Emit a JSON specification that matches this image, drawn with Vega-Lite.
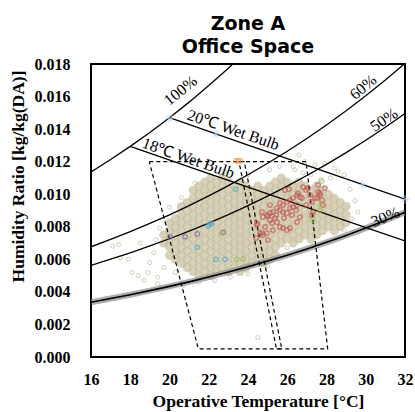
{
"$schema": "https://vega.github.io/schema/vega-lite/v6.json",
"width": 314, "height": 293,
"autosize": {"type": "none"},
"padding": {"left": 91, "top": 64, "right": 10, "bottom": 55},
"background": "white",
"title": {"text": ["Zone A", "Office Space"], "font": "DejaVu Sans", "fontSize": 19, "fontWeight": "bold", "color": "black", "anchor": "middle", "frame": "group", "offset": -1, "lineHeight": 23},
"config": {
 "view": {"stroke": "black", "strokeWidth": 2},
 "axis": {"domain": false, "grid": false, "ticks": false, "tickSize": 0, "labelFont": "Liberation Serif", "labelFontWeight": "bold", "labelFontSize": 16, "labelColor": "black", "labelFlush": false, "labelOverlap": false, "titleFont": "Liberation Serif", "titleFontWeight": "bold", "titleFontSize": 17.5, "titleColor": "black"}
},
"datasets": {
 "cloud": [
  {"t":19.7,"w":0.007},{"t":19.7,"w":0.0075},
  {"t":20.0,"w":0.00625},{"t":20.0,"w":0.00675},{"t":20.0,"w":0.00725},{"t":20.0,"w":0.00775},{"t":20.0,"w":0.00825},
  {"t":20.3,"w":0.006},{"t":20.3,"w":0.0065},{"t":20.3,"w":0.007},{"t":20.3,"w":0.0075},{"t":20.3,"w":0.008},{"t":20.3,"w":0.0085},
  {"t":20.6,"w":0.00575},{"t":20.6,"w":0.00625},{"t":20.6,"w":0.00675},{"t":20.6,"w":0.00725},{"t":20.6,"w":0.00775},{"t":20.6,"w":0.00825},{"t":20.6,"w":0.00875},{"t":20.6,"w":0.00925},
  {"t":20.9,"w":0.0055},{"t":20.9,"w":0.006},{"t":20.9,"w":0.0065},{"t":20.9,"w":0.007},{"t":20.9,"w":0.0075},{"t":20.9,"w":0.008},{"t":20.9,"w":0.0085},{"t":20.9,"w":0.009},{"t":20.9,"w":0.0095},
  {"t":21.2,"w":0.00525},{"t":21.2,"w":0.00575},{"t":21.2,"w":0.00625},{"t":21.2,"w":0.00675},{"t":21.2,"w":0.00725},{"t":21.2,"w":0.00775},{"t":21.2,"w":0.00825},{"t":21.2,"w":0.00875},{"t":21.2,"w":0.00925},{"t":21.2,"w":0.00975},{"t":21.2,"w":0.01025},
  {"t":21.5,"w":0.005},{"t":21.5,"w":0.0055},{"t":21.5,"w":0.006},{"t":21.5,"w":0.0065},{"t":21.5,"w":0.007},{"t":21.5,"w":0.0075},{"t":21.5,"w":0.008},{"t":21.5,"w":0.0085},{"t":21.5,"w":0.009},{"t":21.5,"w":0.0095},{"t":21.5,"w":0.01},{"t":21.5,"w":0.0105},
  {"t":21.8,"w":0.00525},{"t":21.8,"w":0.00575},{"t":21.8,"w":0.00625},{"t":21.8,"w":0.00675},{"t":21.8,"w":0.00725},{"t":21.8,"w":0.00775},{"t":21.8,"w":0.00825},{"t":21.8,"w":0.00875},{"t":21.8,"w":0.00925},{"t":21.8,"w":0.00975},{"t":21.8,"w":0.01025},{"t":21.8,"w":0.01075},
  {"t":22.1,"w":0.005},{"t":22.1,"w":0.0055},{"t":22.1,"w":0.006},{"t":22.1,"w":0.0065},{"t":22.1,"w":0.007},{"t":22.1,"w":0.0075},{"t":22.1,"w":0.008},{"t":22.1,"w":0.0085},{"t":22.1,"w":0.009},{"t":22.1,"w":0.0095},{"t":22.1,"w":0.01},{"t":22.1,"w":0.0105},{"t":22.1,"w":0.011},
  {"t":22.4,"w":0.00525},{"t":22.4,"w":0.00575},{"t":22.4,"w":0.00625},{"t":22.4,"w":0.00675},{"t":22.4,"w":0.00725},{"t":22.4,"w":0.00775},{"t":22.4,"w":0.00825},{"t":22.4,"w":0.00875},{"t":22.4,"w":0.00925},{"t":22.4,"w":0.00975},{"t":22.4,"w":0.01025},{"t":22.4,"w":0.01075},
  {"t":22.7,"w":0.0055},{"t":22.7,"w":0.006},{"t":22.7,"w":0.0065},{"t":22.7,"w":0.007},{"t":22.7,"w":0.0075},{"t":22.7,"w":0.008},{"t":22.7,"w":0.0085},{"t":22.7,"w":0.009},{"t":22.7,"w":0.0095},{"t":22.7,"w":0.01},{"t":22.7,"w":0.0105},{"t":22.7,"w":0.011},
  {"t":23.0,"w":0.00525},{"t":23.0,"w":0.00575},{"t":23.0,"w":0.00625},{"t":23.0,"w":0.00675},{"t":23.0,"w":0.00725},{"t":23.0,"w":0.00775},{"t":23.0,"w":0.00825},{"t":23.0,"w":0.00875},{"t":23.0,"w":0.00925},{"t":23.0,"w":0.00975},{"t":23.0,"w":0.01025},{"t":23.0,"w":0.01075},
  {"t":23.3,"w":0.0055},{"t":23.3,"w":0.006},{"t":23.3,"w":0.0065},{"t":23.3,"w":0.007},{"t":23.3,"w":0.0075},{"t":23.3,"w":0.008},{"t":23.3,"w":0.0085},{"t":23.3,"w":0.009},{"t":23.3,"w":0.0095},{"t":23.3,"w":0.01},{"t":23.3,"w":0.0105},
  {"t":23.6,"w":0.00525},{"t":23.6,"w":0.00575},{"t":23.6,"w":0.00625},{"t":23.6,"w":0.00675},{"t":23.6,"w":0.00725},{"t":23.6,"w":0.00775},{"t":23.6,"w":0.00825},{"t":23.6,"w":0.00875},{"t":23.6,"w":0.00925},{"t":23.6,"w":0.00975},{"t":23.6,"w":0.01025},{"t":23.6,"w":0.01075},
  {"t":23.9,"w":0.0055},{"t":23.9,"w":0.006},{"t":23.9,"w":0.0065},{"t":23.9,"w":0.007},{"t":23.9,"w":0.0075},{"t":23.9,"w":0.008},{"t":23.9,"w":0.0085},{"t":23.9,"w":0.009},{"t":23.9,"w":0.0095},{"t":23.9,"w":0.01},{"t":23.9,"w":0.0105},
  {"t":24.2,"w":0.00575},{"t":24.2,"w":0.00625},{"t":24.2,"w":0.00675},{"t":24.2,"w":0.00725},{"t":24.2,"w":0.00775},{"t":24.2,"w":0.00825},{"t":24.2,"w":0.00875},{"t":24.2,"w":0.00925},{"t":24.2,"w":0.00975},{"t":24.2,"w":0.01025},
  {"t":24.5,"w":0.006},{"t":24.5,"w":0.0065},{"t":24.5,"w":0.007},{"t":24.5,"w":0.0075},{"t":24.5,"w":0.008},{"t":24.5,"w":0.0085},{"t":24.5,"w":0.009},{"t":24.5,"w":0.0095},{"t":24.5,"w":0.01},{"t":24.5,"w":0.0105},
  {"t":24.8,"w":0.00575},{"t":24.8,"w":0.00625},{"t":24.8,"w":0.00675},{"t":24.8,"w":0.00725},{"t":24.8,"w":0.00775},{"t":24.8,"w":0.00825},{"t":24.8,"w":0.00875},{"t":24.8,"w":0.00925},{"t":24.8,"w":0.00975},{"t":24.8,"w":0.01025},
  {"t":25.1,"w":0.006},{"t":25.1,"w":0.0065},{"t":25.1,"w":0.007},{"t":25.1,"w":0.0075},{"t":25.1,"w":0.008},{"t":25.1,"w":0.0085},{"t":25.1,"w":0.009},{"t":25.1,"w":0.0095},{"t":25.1,"w":0.01},{"t":25.1,"w":0.0105},
  {"t":25.4,"w":0.00625},{"t":25.4,"w":0.00675},{"t":25.4,"w":0.00725},{"t":25.4,"w":0.00775},{"t":25.4,"w":0.00825},{"t":25.4,"w":0.00875},{"t":25.4,"w":0.00925},{"t":25.4,"w":0.00975},{"t":25.4,"w":0.01025},{"t":25.4,"w":0.01075},
  {"t":25.7,"w":0.007},{"t":25.7,"w":0.0075},{"t":25.7,"w":0.008},{"t":25.7,"w":0.0085},{"t":25.7,"w":0.009},{"t":25.7,"w":0.0095},{"t":25.7,"w":0.01},{"t":25.7,"w":0.0105},{"t":25.7,"w":0.011},
  {"t":26.0,"w":0.00725},{"t":26.0,"w":0.00775},{"t":26.0,"w":0.00825},{"t":26.0,"w":0.00875},{"t":26.0,"w":0.00925},{"t":26.0,"w":0.00975},{"t":26.0,"w":0.01025},{"t":26.0,"w":0.01075},
  {"t":26.3,"w":0.007},{"t":26.3,"w":0.0075},{"t":26.3,"w":0.008},{"t":26.3,"w":0.0085},{"t":26.3,"w":0.009},{"t":26.3,"w":0.0095},{"t":26.3,"w":0.01},{"t":26.3,"w":0.0105},
  {"t":26.6,"w":0.00725},{"t":26.6,"w":0.00775},{"t":26.6,"w":0.00825},{"t":26.6,"w":0.00875},{"t":26.6,"w":0.00925},{"t":26.6,"w":0.00975},{"t":26.6,"w":0.01025},{"t":26.6,"w":0.01075},
  {"t":26.9,"w":0.0075},{"t":26.9,"w":0.008},{"t":26.9,"w":0.0085},{"t":26.9,"w":0.009},{"t":26.9,"w":0.0095},{"t":26.9,"w":0.01},{"t":26.9,"w":0.0105},
  {"t":27.2,"w":0.00725},{"t":27.2,"w":0.00775},{"t":27.2,"w":0.00825},{"t":27.2,"w":0.00875},{"t":27.2,"w":0.00925},{"t":27.2,"w":0.00975},{"t":27.2,"w":0.01025},
  {"t":27.5,"w":0.0075},{"t":27.5,"w":0.008},{"t":27.5,"w":0.0085},{"t":27.5,"w":0.009},{"t":27.5,"w":0.0095},{"t":27.5,"w":0.01},{"t":27.5,"w":0.0105},
  {"t":27.8,"w":0.00775},{"t":27.8,"w":0.00825},{"t":27.8,"w":0.00875},{"t":27.8,"w":0.00925},{"t":27.8,"w":0.00975},{"t":27.8,"w":0.01025},
  {"t":28.1,"w":0.008},{"t":28.1,"w":0.0085},{"t":28.1,"w":0.009},{"t":28.1,"w":0.0095},{"t":28.1,"w":0.01},
  {"t":28.4,"w":0.00775},{"t":28.4,"w":0.00825},{"t":28.4,"w":0.00875},{"t":28.4,"w":0.00925},{"t":28.4,"w":0.00975},
  {"t":28.7,"w":0.008},{"t":28.7,"w":0.0085},{"t":28.7,"w":0.009},{"t":28.7,"w":0.0095},
  {"t":29.0,"w":0.00825},{"t":29.0,"w":0.00875},{"t":29.0,"w":0.00925}
 ],
 "sparse": [
  {"t":17.1,"w":0.0068},{"t":17.4,"w":0.0069},{"t":17.5,"w":0.0061},{"t":18.1,"w":0.0052},{"t":18.4,"w":0.005},{"t":18.9,"w":0.0052},{"t":19.4,"w":0.0049},{"t":19.4,"w":0.0045},{"t":20.7,"w":0.0044},{"t":18.5,"w":0.007},{"t":19.2,"w":0.0064},{"t":19.0,"w":0.0058},{"t":19.5,"w":0.0079},{"t":20.0,"w":0.0092},{"t":19.3,"w":0.0072},{"t":20.3,"w":0.0052},{"t":21.5,"w":0.0046},{"t":22.3,"w":0.0047},{"t":23.1,"w":0.0049},{"t":24.0,"w":0.0051},{"t":24.5,"w":0.0012},{"t":26.9,"w":0.012},{"t":27.4,"w":0.0118},{"t":27.9,"w":0.0119},{"t":28.4,"w":0.0116},{"t":28.9,"w":0.0112},{"t":28.2,"w":0.011},{"t":27.2,"w":0.0112},{"t":26.4,"w":0.0115},{"t":25.6,"w":0.0117},{"t":25.1,"w":0.0115},{"t":29.2,"w":0.0103},{"t":29.45,"w":0.0096},{"t":29.6,"w":0.0089},{"t":26.6,"w":0.0124},{"t":26.3,"w":0.0117},{"t":29.3,"w":0.0085},{"t":28.9,"w":0.0078},{"t":26.0,"w":0.0067},{"t":25.0,"w":0.0056},{"t":24.0,"w":0.0112},{"t":22.8,"w":0.0114},{"t":21.3,"w":0.0107},{"t":20.6,"w":0.0098},{"t":17.9,"w":0.006},{"t":18.7,"w":0.0047},{"t":19.7,"w":0.0055},{"t":28.6,"w":0.0114},{"t":27.7,"w":0.0109},{"t":26.8,"w":0.0113}
 ],
 "curves": [
  {"t":16,"w":0.011367,"c":"rh100"},{"t":17,"w":0.012129,"c":"rh100"},{"t":18,"w":0.012938,"c":"rh100"},{"t":19,"w":0.013796,"c":"rh100"},{"t":20,"w":0.014699,"c":"rh100"},{"t":21,"w":0.015658,"c":"rh100"},{"t":22,"w":0.016673,"c":"rh100"},{"t":23,"w":0.017744,"c":"rh100"},{"t":23.225,"w":0.018,"c":"rh100"},
  {"t":16,"w":0.006771,"c":"rh60"},{"t":17,"w":0.007221,"c":"rh60"},{"t":18,"w":0.007699,"c":"rh60"},{"t":19,"w":0.008205,"c":"rh60"},{"t":20,"w":0.008737,"c":"rh60"},{"t":21,"w":0.009301,"c":"rh60"},{"t":22,"w":0.009898,"c":"rh60"},{"t":23,"w":0.010526,"c":"rh60"},{"t":24,"w":0.011193,"c":"rh60"},{"t":25,"w":0.011899,"c":"rh60"},{"t":26,"w":0.012642,"c":"rh60"},{"t":27,"w":0.013426,"c":"rh60"},{"t":28,"w":0.014253,"c":"rh60"},{"t":29,"w":0.015125,"c":"rh60"},{"t":30,"w":0.016045,"c":"rh60"},{"t":31,"w":0.017015,"c":"rh60"},{"t":32,"w":0.018037,"c":"rh60"},
  {"t":16,"w":0.005632,"c":"rh50"},{"t":17,"w":0.006006,"c":"rh50"},{"t":18,"w":0.006403,"c":"rh50"},{"t":19,"w":0.006823,"c":"rh50"},{"t":20,"w":0.007264,"c":"rh50"},{"t":21,"w":0.007732,"c":"rh50"},{"t":22,"w":0.008226,"c":"rh50"},{"t":23,"w":0.008747,"c":"rh50"},{"t":24,"w":0.0093,"c":"rh50"},{"t":25,"w":0.009884,"c":"rh50"},{"t":26,"w":0.010499,"c":"rh50"},{"t":27,"w":0.011148,"c":"rh50"},{"t":28,"w":0.011832,"c":"rh50"},{"t":29,"w":0.012553,"c":"rh50"},{"t":30,"w":0.013314,"c":"rh50"},{"t":31,"w":0.014115,"c":"rh50"},{"t":32,"w":0.014959,"c":"rh50"},
  {"t":18,"w":0.012938,"c":"wb18"},{"t":21,"w":0.011684,"c":"wb18"},{"t":25,"w":0.010021,"c":"wb18"},{"t":28,"w":0.008781,"c":"wb18"},{"t":32,"w":0.007135,"c":"wb18"},
  {"t":20,"w":0.014699,"c":"wb20"},{"t":24,"w":0.01302,"c":"wb20"},{"t":28,"w":0.011352,"c":"wb20"},{"t":32,"w":0.009693,"c":"wb20"}
 ],
 "rh30": [
  {"t":16,"w":0.003367},{"t":17,"w":0.00359},{"t":18,"w":0.003826},{"t":19,"w":0.004076},{"t":20,"w":0.004338},{"t":21,"w":0.004616},{"t":22,"w":0.00491},{"t":23,"w":0.005219},{"t":24,"w":0.005547},{"t":25,"w":0.005893},{"t":26,"w":0.006257},{"t":27,"w":0.006641},{"t":28,"w":0.007046},{"t":29,"w":0.007471},{"t":30,"w":0.00792},{"t":31,"w":0.008393},{"t":32,"w":0.00889}
 ],
 "zones": [
  {"t":18.97,"w":0.012,"z":"winter","o":1},{"t":23.81,"w":0.012,"z":"winter","o":2},{"t":25.72,"w":0.0005,"z":"winter","o":3},{"t":21.47,"w":0.0005,"z":"winter","o":4},{"t":18.97,"w":0.012,"z":"winter","o":5},
  {"t":23.54,"w":0.012,"z":"summer","o":1},{"t":26.96,"w":0.012,"z":"summer","o":2},{"t":28.06,"w":0.0005,"z":"summer","o":3},{"t":25.45,"w":0.0005,"z":"summer","o":4},{"t":23.54,"w":0.012,"z":"summer","o":5}
 ],
 "pts": [
  {"t":26.09,"w":0.01032,"g":"red"},{"t":26.8,"w":0.01044,"g":"red"},{"t":26.55,"w":0.01007,"g":"red"},{"t":26.65,"w":0.00983,"g":"red"},{"t":26.5,"w":0.00995,"g":"red"},{"t":26.75,"w":0.00977,"g":"red"},{"t":27.06,"w":0.01038,"g":"red"},{"t":27.57,"w":0.01014,"g":"red"},{"t":27.67,"w":0.00995,"g":"red"},{"t":27.52,"w":0.00977,"g":"red"},{"t":27.77,"w":0.00964,"g":"red"},{"t":27.26,"w":0.00952,"g":"red"},{"t":26.29,"w":0.00977,"g":"red"},{"t":26.14,"w":0.00964,"g":"red"},{"t":25.99,"w":0.00952,"g":"red"},{"t":25.78,"w":0.00934,"g":"red"},{"t":25.63,"w":0.00946,"g":"red"},{"t":25.12,"w":0.00934,"g":"red"},{"t":25.48,"w":0.00915,"g":"red"},{"t":25.63,"w":0.00903,"g":"red"},{"t":25.27,"w":0.00891,"g":"red"},{"t":25.12,"w":0.00885,"g":"red"},{"t":24.97,"w":0.00872,"g":"red"},{"t":24.76,"w":0.0086,"g":"red"},{"t":25.78,"w":0.00891,"g":"red"},{"t":25.99,"w":0.00885,"g":"red"},{"t":26.14,"w":0.00915,"g":"red"},{"t":26.29,"w":0.00921,"g":"red"},{"t":26.65,"w":0.0086,"g":"red"},{"t":27.31,"w":0.00891,"g":"red"},{"t":27.26,"w":0.00872,"g":"red"},{"t":25.12,"w":0.00842,"g":"red"},{"t":25.38,"w":0.00854,"g":"red"},{"t":25.22,"w":0.00823,"g":"red"},{"t":25.48,"w":0.00829,"g":"red"},{"t":25.63,"w":0.00799,"g":"red"},{"t":25.78,"w":0.00792,"g":"red"},{"t":25.99,"w":0.0078,"g":"red"},{"t":26.14,"w":0.00792,"g":"red"},{"t":24.46,"w":0.00823,"g":"red"},{"t":25.27,"w":0.0078,"g":"red"},{"t":24.61,"w":0.00762,"g":"red"},{"t":24.76,"w":0.00749,"g":"red"},{"t":24.97,"w":0.00762,"g":"red"},{"t":24.46,"w":0.00811,"g":"red"},{"t":24.71,"w":0.00762,"g":"red"},{"t":25.02,"w":0.00866,"g":"red"},{"t":25.88,"w":0.01026,"g":"red"},{"t":27.16,"w":0.00995,"g":"red"},{"t":27.41,"w":0.00977,"g":"red"},{"t":27.67,"w":0.01007,"g":"red"},{"t":26.96,"w":0.00934,"g":"red"},{"t":26.45,"w":0.00903,"g":"red"},{"t":26.96,"w":0.01026,"g":"red"},{"t":27.92,"w":0.01038,"g":"red"},{"t":27.82,"w":0.00934,"g":"red"},{"t":27.57,"w":0.01057,"g":"red"},{"t":25.83,"w":0.00854,"g":"red"},{"t":25.43,"w":0.00872,"g":"red"},{"t":26.5,"w":0.00829,"g":"red"},{"t":24.87,"w":0.00799,"g":"red"},{"t":25.02,"w":0.00719,"g":"red"},{"t":24.41,"w":0.00731,"g":"red"},{"t":24.71,"w":0.00891,"g":"red"},{"t":26.24,"w":0.00872,"g":"red"},{"t":26.5,"w":0.00934,"g":"red"},
  {"t":20.03,"w":0.00739,"g":"purple"},{"t":20.79,"w":0.00739,"g":"purple"},{"t":21.42,"w":0.00756,"g":"purple"},{"t":22.74,"w":0.00766,"g":"purple"},
  {"t":23.37,"w":0.0103,"g":"cyan"},{"t":21.98,"w":0.00807,"g":"cyan"},{"t":22.06,"w":0.00815,"g":"cyan"},{"t":22.15,"w":0.00821,"g":"cyan"},{"t":21.42,"w":0.00674,"g":"cyan"},{"t":22.37,"w":0.006,"g":"cyan"},{"t":22.83,"w":0.006,"g":"cyan"},
  {"t":22.66,"w":0.0076,"g":"green"},{"t":23.42,"w":0.006,"g":"green"},{"t":23.76,"w":0.00604,"g":"green"},{"t":27.76,"w":0.01081,"g":"green"},{"t":27.72,"w":0.00938,"g":"green"},{"t":27.67,"w":0.00903,"g":"green"},{"t":27.3,"w":0.00842,"g":"green"},
  {"t":23.38,"w":0.01205,"g":"orange"},{"t":23.5,"w":0.01205,"g":"orange"},{"t":23.62,"w":0.01205,"g":"orange"}
 ],
 "stars": [
  {"t":19.99,"w":0.01466},{"t":22.37,"w":0.0137},{"t":29.84,"w":0.01059},{"t":32,"w":0.00969}
 ]
},
"encoding": {
 "x": {"field": "t", "type": "quantitative", "scale": {"domain": [16, 32], "nice": false, "zero": false},
  "axis": {"values": [16,18,20,22,24,26,28,30,32], "title": "Operative Temperature [°C]", "labelPadding": 14, "titleX": 167, "titleY": 49, "titleBaseline": "alphabetic", "titleAlign": "center"}},
 "y": {"field": "w", "type": "quantitative", "scale": {"domain": [0, 0.018], "nice": false, "zero": false},
  "axis": {"values": [0,0.002,0.004,0.006,0.008,0.01,0.012,0.014,0.016,0.018], "format": ".3f", "title": "Humidity Ratio [kg/kg(DA)]", "labelPadding": 21, "titleX": -73, "titleY": 112, "titleAlign": "center", "titleBaseline": "middle", "titleAngle": -90}}
},
"layer": [
 {"data": {"name": "sparse"}, "mark": {"type": "point", "filled": false, "size": 16, "color": "#c9c2a3", "strokeWidth": 1, "opacity": 0.8, "clip": true}},
 {"data": {"name": "cloud"}, "mark": {"type": "point", "filled": true, "size": 80, "color": "#bcb38c", "opacity": 0.6, "strokeWidth": 0, "clip": true}},
 {"data": {"name": "rh30"}, "mark": {"type": "line", "color": "#8c8c8c", "strokeWidth": 6, "opacity": 0.7, "clip": true}, "encoding": {}},
 {"data": {"name": "rh30"}, "mark": {"type": "line", "color": "black", "strokeWidth": 1.6, "clip": true}, "encoding": {}},
 {"data": {"name": "curves"}, "mark": {"type": "line", "color": "black", "strokeWidth": 1.3, "clip": true}, "encoding": {"detail": {"field": "c"}}},
 {"data": {"name": "zones"}, "mark": {"type": "line", "color": "black", "strokeWidth": 1.2, "strokeDash": [4, 3]}, "encoding": {"detail": {"field": "z"}, "order": {"field": "o", "type": "quantitative"}}},
 {"data": {"name": "pts"}, "mark": {"type": "point", "filled": false, "size": 20, "strokeWidth": 1.2},
  "encoding": {"color": {"field": "g", "type": "nominal", "scale": {"domain": ["red","purple","cyan","green","orange"], "range": ["#c0504d","#8064a2","#4bacc6","#9bbb59","#f79646"]}, "legend": null}}},
 {"data": {"name": "stars"}, "mark": {"type": "point", "shape": "M-1,0L1,0M0,-1L0,1M-0.7,-0.7L0.7,0.7M-0.7,0.7L0.7,-0.7", "size": 70, "filled": false, "color": "#a8cbe6", "strokeWidth": 1}},
 {"data": {"values": [{"t": 20.57, "w": 0.01636, "txt": "100%"}]}, "mark": {"type": "text", "font": "Liberation Serif", "fontSize": 16, "angle": 321, "align": "center", "baseline": "middle", "color": "black"}, "encoding": {"text": {"field": "txt"}}},
 {"data": {"values": [{"t": 29.87, "w": 0.01657, "txt": "60%"}]}, "mark": {"type": "text", "font": "Liberation Serif", "fontSize": 16, "angle": 320, "align": "center", "baseline": "middle", "color": "black"}, "encoding": {"text": {"field": "txt"}}},
 {"data": {"values": [{"t": 30.93, "w": 0.01456, "txt": "50%"}]}, "mark": {"type": "text", "font": "Liberation Serif", "fontSize": 16, "angle": 326, "align": "center", "baseline": "middle", "color": "black"}, "encoding": {"text": {"field": "txt"}}},
 {"data": {"values": [{"t": 31.0, "w": 0.0086, "txt": "30%"}]}, "mark": {"type": "text", "font": "Liberation Serif", "fontSize": 16, "angle": 338, "align": "center", "baseline": "middle", "color": "black"}, "encoding": {"text": {"field": "txt"}}},
 {"data": {"values": [{"t": 23.25, "w": 0.01394, "txt": "20℃ Wet Bulb"}]}, "mark": {"type": "text", "font": "Liberation Serif", "fontSize": 16, "angle": 19, "align": "center", "baseline": "middle", "color": "black"}, "encoding": {"text": {"field": "txt"}}},
 {"data": {"values": [{"t": 20.96, "w": 0.01221, "txt": "18℃ Wet Bulb"}]}, "mark": {"type": "text", "font": "Liberation Serif", "fontSize": 16, "angle": 19, "align": "center", "baseline": "middle", "color": "black"}, "encoding": {"text": {"field": "txt"}}}
]
}
